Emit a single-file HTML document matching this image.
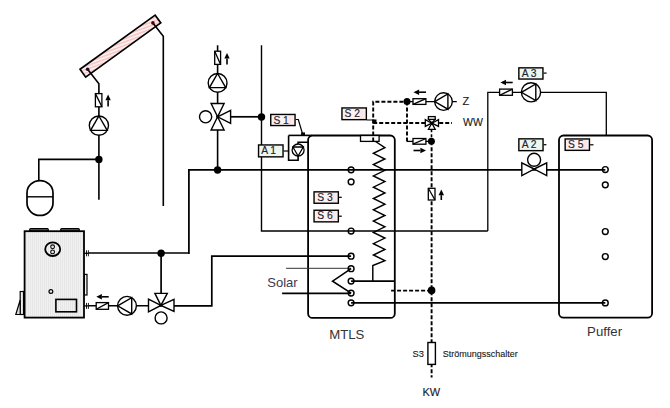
<!DOCTYPE html><html><head><meta charset="utf-8"><style>html,body{margin:0;padding:0;background:#fff;width:670px;height:408px;overflow:hidden}svg{display:block;font-family:"Liberation Sans",sans-serif}</style></head><body>
<svg width="670" height="408" viewBox="0 0 670 408">
<defs>
<linearGradient id="gS" x1="0" x2="1"><stop offset="0" stop-color="#f9eded"/><stop offset="0.6" stop-color="#fdf5f5"/><stop offset="0.8" stop-color="#fae3e3"/><stop offset="1" stop-color="#fdf3f3"/></linearGradient>
<linearGradient id="gA" x1="0" x2="1"><stop offset="0" stop-color="#f3f7ee"/><stop offset="0.5" stop-color="#eaf6f0"/><stop offset="1" stop-color="#eef8ee"/></linearGradient>
<pattern id="hatch" patternUnits="userSpaceOnUse" width="3.2" height="3.2" patternTransform="rotate(16)"><rect width="3.2" height="3.2" fill="#fdeeee"/><rect width="3.2" height="1.5" fill="#f6c6c6"/></pattern>
<pattern id="boil" patternUnits="userSpaceOnUse" width="2" height="3"><rect width="2" height="3" fill="#f1f1f1"/><rect width="1" height="3" fill="#e6e6e6"/></pattern>
</defs>
<g transform="translate(120.4,46.1) rotate(-35.8)"><rect x="-46.3" y="-4.8" width="92.6" height="9.6" fill="url(#hatch)" stroke="#000" stroke-width="1.7"/></g>
<path d="M87.60,69.30 L98.90,83.70 L98.90,199.70" fill="none" stroke="#000" stroke-width="1.6" stroke-linecap="butt"/>
<path d="M152.90,22.90 L163.30,36.30 L163.30,205.90" fill="none" stroke="#000" stroke-width="1.6" stroke-linecap="butt"/>
<circle cx="152.9" cy="22.9" r="1.8" fill="#500"/>
<circle cx="87.6" cy="69.3" r="1.8" fill="#113"/>
<rect x="95.4" y="93.6" width="6.50" height="13.20" fill="#fff" stroke="#000" stroke-width="1.3"/>
<path d="M95.4,93.6 L101.9,106.8" stroke="#000" stroke-width="1.3"/>
<path d="M108.1,106.6 L108.10,100.20" stroke="#000" stroke-width="1.6"/>
<path d="M108.1,94.6 L110.80,100.20 L105.40,100.20Z" fill="#000"/>
<circle cx="98.9" cy="125.6" r="9.6" fill="#fff" stroke="#000" stroke-width="1.4"/>
<path d="M98.90,116.00 L107.21,130.40 L90.59,130.40Z" fill="none" stroke="#000" stroke-width="1.4"/>
<path d="M38.80,180.60 L38.80,159.40 L98.90,159.40" fill="none" stroke="#000" stroke-width="1.6" stroke-linecap="butt"/>
<circle cx="98.9" cy="159.4" r="3.7" fill="#000"/>
<path d="M27,193 A13,12.4 0 0 1 53,193 L53,203 A13,12.4 0 0 1 27,203 Z" fill="#fff" stroke="#000" stroke-width="1.7"/>
<path d="M27.00,196.80 L53.00,196.80" fill="none" stroke="#000" stroke-width="1.4" stroke-linecap="butt"/>
<rect x="29.6" y="228.6" width="18.8" height="2.6" rx="1.3" fill="#666" stroke="#000" stroke-width="1.2"/>
<rect x="60.6" y="228.6" width="18.8" height="2.6" rx="1.3" fill="#666" stroke="#000" stroke-width="1.2"/>
<rect x="24.6" y="231.2" width="59.4" height="86.4" fill="url(#boil)" stroke="#000" stroke-width="1.8"/>
<ellipse cx="52.7" cy="249.2" rx="7.5" ry="6.8" fill="none" stroke="#000" stroke-width="1.8"/>
<circle cx="52.6" cy="246.8" r="1.9" fill="none" stroke="#000" stroke-width="1.1"/>
<circle cx="52.6" cy="251.9" r="1.9" fill="none" stroke="#000" stroke-width="1.1"/>
<circle cx="50.9" cy="291.5" r="1.9" fill="none" stroke="#000" stroke-width="1.2"/>
<rect x="55.9" y="299.4" width="20.6" height="12.4" fill="none" stroke="#000" stroke-width="1.6"/>
<rect x="84.4" y="274.4" width="2.6" height="20.6" fill="#eee" stroke="#000" stroke-width="1.2"/>
<rect x="20.2" y="291.5" width="3.3" height="23" fill="#eee" stroke="#000" stroke-width="1.2"/>
<path d="M20.2,300 L15.8,314.5 L20.2,314.5 Z" fill="#ddd" stroke="#000" stroke-width="1.2"/>
<path d="M84.00,253.30 L88.40,253.30" fill="none" stroke="#000" stroke-width="1.3" stroke-linecap="butt"/>
<path d="M86.50,250.30 L86.50,256.30" fill="none" stroke="#000" stroke-width="0.9" stroke-linecap="butt"/>
<path d="M88.40,250.30 L88.40,256.30" fill="none" stroke="#000" stroke-width="0.9" stroke-linecap="butt"/>
<path d="M84.00,305.90 L88.40,305.90" fill="none" stroke="#000" stroke-width="1.3" stroke-linecap="butt"/>
<path d="M86.50,302.90 L86.50,308.90" fill="none" stroke="#000" stroke-width="0.9" stroke-linecap="butt"/>
<path d="M88.40,302.90 L88.40,308.90" fill="none" stroke="#000" stroke-width="0.9" stroke-linecap="butt"/>
<path d="M88.40,253.10 L188.90,253.10" fill="none" stroke="#000" stroke-width="1.5" stroke-linecap="butt"/>
<path d="M188.90,253.90 L188.90,169.80 L605.30,169.80" fill="none" stroke="#000" stroke-width="1.75" stroke-linecap="butt"/>
<circle cx="161.1" cy="253.2" r="3.7" fill="#000"/>
<path d="M161.10,253.30 L161.10,300.00" fill="none" stroke="#000" stroke-width="1.7" stroke-linecap="butt"/>
<path d="M88.40,305.80 L148.50,305.80" fill="none" stroke="#000" stroke-width="1.6" stroke-linecap="butt"/>
<rect x="96.2" y="302.6" width="12.30" height="6.70" fill="#fff" stroke="#000" stroke-width="1.3"/>
<path d="M96.2,309.3 L108.5,302.6" stroke="#000" stroke-width="1.3"/>
<path d="M108.7,296.8 L101.90,296.80" stroke="#000" stroke-width="1.6"/>
<path d="M96.3,296.8 L101.90,294.10 L101.90,299.50Z" fill="#000"/>
<circle cx="127" cy="305.8" r="9.4" fill="#fff" stroke="#000" stroke-width="1.4"/>
<path d="M117.60,305.80 L131.70,297.66 L131.70,313.94Z" fill="none" stroke="#000" stroke-width="1.4"/>
<path d="M160.90,305.40 L154.90,293.40 L167.30,293.40Z" fill="#fff" stroke="#000" stroke-width="1.4"/>
<path d="M160.90,305.40 L148.50,299.10 L148.50,311.80Z" fill="#fff" stroke="#000" stroke-width="1.4"/>
<path d="M160.90,305.40 L174.00,299.40 L174.00,311.40Z" fill="#fff" stroke="#000" stroke-width="1.4"/>
<circle cx="160.9" cy="305.4" r="1.4" fill="#000"/>
<circle cx="161.1" cy="317.9" r="6" fill="#fff" stroke="#000" stroke-width="1.4"/>
<path d="M174.00,305.80 L211.80,305.80 L211.80,256.20 L351.10,256.20" fill="none" stroke="#000" stroke-width="1.7" stroke-linecap="butt"/>
<path d="M217.60,45.30 L217.60,170.00" fill="none" stroke="#000" stroke-width="1.6" stroke-linecap="butt"/>
<rect x="214.7" y="51.2" width="5.90" height="13.20" fill="#fff" stroke="#000" stroke-width="1.3"/>
<path d="M214.7,51.2 L220.6,64.4" stroke="#000" stroke-width="1.3"/>
<path d="M227,64.4 L227.00,58.60" stroke="#000" stroke-width="1.6"/>
<path d="M227,53 L229.70,58.60 L224.30,58.60Z" fill="#000"/>
<circle cx="217.6" cy="82.9" r="9.4" fill="#fff" stroke="#000" stroke-width="1.4"/>
<path d="M217.60,73.50 L225.74,87.60 L209.46,87.60Z" fill="none" stroke="#000" stroke-width="1.4"/>
<path d="M217.60,116.80 L211.10,103.50 L224.10,103.50Z" fill="#fff" stroke="#000" stroke-width="1.4"/>
<path d="M217.60,116.80 L211.10,130.00 L224.10,130.00Z" fill="#fff" stroke="#000" stroke-width="1.4"/>
<path d="M217.60,116.80 L230.60,110.30 L230.60,123.30Z" fill="#fff" stroke="#000" stroke-width="1.4"/>
<circle cx="217.6" cy="116.8" r="1.3" fill="#000"/>
<circle cx="205.6" cy="116.8" r="6.1" fill="#fff" stroke="#000" stroke-width="1.4"/>
<circle cx="217.6" cy="170" r="3.7" fill="#000"/>
<path d="M230.60,116.80 L261.50,116.80" fill="none" stroke="#000" stroke-width="1.7" stroke-linecap="butt"/>
<path d="M261.50,45.30 L261.50,231.00 L487.80,231.00" fill="none" stroke="#000" stroke-width="1.4" stroke-linecap="butt"/>
<path d="M487.80,231.00 L487.80,92.30 L606.30,92.30 L606.30,135.80" fill="none" stroke="#000" stroke-width="1.3" stroke-linecap="butt"/>
<circle cx="261.5" cy="117" r="3.7" fill="#000"/>
<rect x="308.1" y="135.5" width="86.7" height="182.4" rx="4.5" fill="none" stroke="#000" stroke-width="1.8"/>
<path d="M288.60,135.40 L312.00,135.40" fill="none" stroke="#000" stroke-width="1.6" stroke-linecap="butt"/>
<path d="M288.60,135.40 L288.60,160.30 L298.10,160.30 L298.10,142.20 L307.90,142.20" fill="none" stroke="#000" stroke-width="1.6" stroke-linecap="butt"/>
<circle cx="298.1" cy="150" r="6" fill="#fff" stroke="#000" stroke-width="1.3"/>
<path d="M298.10,156.00 L292.90,147.00 L303.30,147.00Z" fill="none" stroke="#000" stroke-width="1.3"/>
<path d="M283.60,151.00 L288.60,151.00" fill="none" stroke="#000" stroke-width="1.2" stroke-linecap="butt"/>
<rect x="258.55" y="144.95" width="24.50" height="11.90" fill="url(#gA)" stroke="#000" stroke-width="1.4"/>
<text x="261.20" y="154.10" font-size="10.3" fill="#222230" stroke="#222230" stroke-width="0.15">A 1</text>
<rect x="270.75" y="114.45" width="24.30" height="11.10" fill="url(#gS)" stroke="#000" stroke-width="1.4"/>
<text x="273.40" y="123.50" font-size="10.3" fill="#222230" stroke="#222230" stroke-width="0.15">S 1</text>
<path d="M295.70,119.50 L298.30,119.50 L302.30,133.00" fill="none" stroke="#000" stroke-width="1.2" stroke-linecap="butt"/>
<rect x="301.1" y="132.4" width="3.9" height="3" fill="#000"/>
<rect x="360.5" y="135.5" width="18.6" height="5.9" fill="#fff" stroke="#000" stroke-width="1.3"/>
<path d="M375.50,141.50 L384.90,147.70 L373.40,153.30 L384.90,159.00 L373.40,164.60 L384.90,170.30 L373.40,175.90 L384.90,181.60 L373.40,187.20 L384.90,192.90 L373.40,198.50 L384.90,204.20 L373.40,209.80 L384.90,215.50 L373.40,221.10 L384.90,226.80 L373.40,232.40 L384.90,238.10 L373.40,243.70 L384.90,249.40 L373.40,255.00 L384.90,260.70 L372.80,265.60 L372.80,281.10" fill="none" stroke="#000" stroke-width="1.45" stroke-linecap="butt"/>
<path d="M351.10,281.10 L394.80,281.10" fill="none" stroke="#000" stroke-width="1.7" stroke-linecap="butt"/>
<path d="M351.10,293.40 L282.10,293.40" fill="none" stroke="#000" stroke-width="1.7" stroke-linecap="butt"/>
<path d="M286.10,268.30 L351.10,268.30" fill="none" stroke="#333" stroke-width="1.0" stroke-linecap="butt"/>
<path d="M351.10,268.70 L332.60,281.20 L351.10,293.10" fill="none" stroke="#000" stroke-width="1.6" stroke-linecap="butt"/>
<path d="M351.10,302.80 L605.30,302.80" fill="none" stroke="#000" stroke-width="1.7" stroke-linecap="butt"/>
<circle cx="351.1" cy="169.8" r="2.9" fill="none" stroke="#000" stroke-width="1.45"/>
<circle cx="351.1" cy="181.8" r="2.9" fill="none" stroke="#000" stroke-width="1.45"/>
<circle cx="351.1" cy="231" r="2.9" fill="none" stroke="#000" stroke-width="1.45"/>
<circle cx="351.1" cy="256.2" r="2.9" fill="none" stroke="#000" stroke-width="1.45"/>
<circle cx="351.1" cy="268.7" r="2.9" fill="none" stroke="#000" stroke-width="1.45"/>
<circle cx="351.1" cy="281.1" r="2.9" fill="none" stroke="#000" stroke-width="1.45"/>
<circle cx="351.1" cy="293.1" r="2.9" fill="none" stroke="#000" stroke-width="1.45"/>
<circle cx="351.1" cy="302.8" r="2.9" fill="none" stroke="#000" stroke-width="1.45"/>
<rect x="314.05" y="191.85" width="24.30" height="11.40" fill="url(#gS)" stroke="#000" stroke-width="1.4"/>
<text x="317.20" y="200.70" font-size="10.3" fill="#222230" stroke="#222230" stroke-width="0.15">S 3</text>
<rect x="314.05" y="210.25" width="24.30" height="11.60" fill="url(#gS)" stroke="#000" stroke-width="1.4"/>
<text x="317.20" y="218.90" font-size="10.3" fill="#222230" stroke="#222230" stroke-width="0.15">S 6</text>
<path d="M339.00,197.30 L341.80,197.30" fill="none" stroke="#000" stroke-width="1.2" stroke-linecap="butt"/>
<path d="M339.00,216.20 L341.80,216.20" fill="none" stroke="#000" stroke-width="1.2" stroke-linecap="butt"/>
<rect x="341.95" y="107.95" width="24.40" height="11.70" fill="url(#gS)" stroke="#000" stroke-width="1.4"/>
<text x="344.60" y="116.70" font-size="10.3" fill="#222230" stroke="#222230" stroke-width="0.15">S 2</text>
<path d="M367.00,120.00 L372.50,120.00" fill="none" stroke="#000" stroke-width="1.0" stroke-linecap="butt"/>
<rect x="372.3" y="119.5" width="4.2" height="3.7" fill="#000"/>
<path d="M373.20,141.50 L373.20,101.70 L407.00,101.70" fill="none" stroke="#000" stroke-width="1.9" stroke-linecap="butt" stroke-dasharray="4,2"/>
<path d="M373.20,123.00 L452.00,123.00" fill="none" stroke="#000" stroke-width="1.9" stroke-linecap="butt" stroke-dasharray="4,2"/>
<circle cx="407" cy="101.6" r="3.5" fill="#000"/>
<path d="M407.00,101.60 L456.80,101.60" fill="none" stroke="#000" stroke-width="1.3" stroke-linecap="butt"/>
<rect x="413" y="98.7" width="12.90" height="5.70" fill="#fff" stroke="#000" stroke-width="1.3"/>
<path d="M413,104.4 L425.9,98.7" stroke="#000" stroke-width="1.3"/>
<path d="M426,92.2 L419.10,92.20" stroke="#000" stroke-width="1.6"/>
<path d="M413.5,92.2 L419.10,89.50 L419.10,94.90Z" fill="#000"/>
<circle cx="443.5" cy="101.6" r="8.8" fill="#fff" stroke="#000" stroke-width="1.4"/>
<path d="M434.70,101.60 L447.90,93.98 L447.90,109.22Z" fill="none" stroke="#000" stroke-width="1.4"/>
<path d="M407.00,101.60 L407.00,141.40" fill="none" stroke="#000" stroke-width="1.9" stroke-linecap="butt" stroke-dasharray="4,2"/>
<path d="M407.00,141.40 L431.40,141.40" fill="none" stroke="#000" stroke-width="1.3" stroke-linecap="butt"/>
<rect x="413" y="138.5" width="12.90" height="5.70" fill="#fff" stroke="#000" stroke-width="1.3"/>
<path d="M413,144.2 L425.9,138.5" stroke="#000" stroke-width="1.3"/>
<path d="M413.5,150.5 L420.40,150.50" stroke="#000" stroke-width="1.6"/>
<path d="M426,150.5 L420.40,153.20 L420.40,147.80Z" fill="#000"/>
<circle cx="431.4" cy="141.2" r="3.5" fill="#000"/>
<path d="M431.80,123.20 L425.30,119.60 L425.30,126.40Z" fill="#fff" stroke="#000" stroke-width="1.3"/>
<path d="M431.80,123.20 L438.50,119.60 L438.50,126.40Z" fill="#fff" stroke="#000" stroke-width="1.3"/>
<path d="M431.80,123.20 L428.40,129.30 L435.20,129.30Z" fill="#fff" stroke="#000" stroke-width="1.3"/>
<path d="M431.80,123.20 L428.60,119.40 L435.00,119.40Z" fill="#fff" stroke="#000" stroke-width="1.2"/>
<rect x="428.4" y="116.6" width="6.8" height="2.8" fill="#fff" stroke="#000" stroke-width="1.3"/>
<circle cx="431.8" cy="123.2" r="1.6" fill="#000"/>
<path d="M431.50,129.30 L431.50,141.00" fill="none" stroke="#000" stroke-width="1.6" stroke-linecap="butt" stroke-dasharray="3,2"/>
<path d="M431.60,141.20 L431.60,377.50" fill="none" stroke="#000" stroke-width="1.9" stroke-linecap="butt" stroke-dasharray="4,2"/>
<rect x="428.3" y="188.3" width="6.70" height="11.70" fill="#fff" stroke="#000" stroke-width="1.3"/>
<path d="M428.3,188.3 L435,200" stroke="#000" stroke-width="1.3"/>
<path d="M441.3,200 L441.30,195.20" stroke="#000" stroke-width="1.6"/>
<path d="M441.3,189.6 L444.00,195.20 L438.60,195.20Z" fill="#000"/>
<circle cx="431.6" cy="290.4" r="3.8" fill="#000"/>
<path d="M391.10,290.60 L431.60,290.60" fill="none" stroke="#000" stroke-width="1.9" stroke-linecap="butt" stroke-dasharray="4,2"/>
<rect x="427.9" y="342.5" width="7.5" height="21.9" fill="#fff" stroke="#000" stroke-width="1.4"/>
<text x="462.6" y="104.9" font-size="11" fill="#1a1a1a" stroke="#1a1a1a" stroke-width="0.12">Z</text>
<text x="463.1" y="126.3" font-size="10.5" fill="#1a1a1a" stroke="#1a1a1a" stroke-width="0.12">WW</text>
<text x="412.6" y="357.2" font-size="9.3" fill="#1a1a1a" stroke="#1a1a1a" stroke-width="0.12">S3</text>
<text x="442.8" y="357.2" font-size="9" fill="#1a1a1a" stroke="#1a1a1a" stroke-width="0.12">Strömungsschalter</text>
<text x="422.4" y="396.3" font-size="11" fill="#1a1a1a" stroke="#1a1a1a" stroke-width="0.12">KW</text>
<text x="267.3" y="287" font-size="13" fill="#3a3a4e">Solar</text>
<text x="329.2" y="339.1" font-size="13.2" fill="#333">MTLS</text>
<text x="587.1" y="336.2" font-size="13.2" fill="#333">Puffer</text>
<rect x="499.6" y="89.1" width="12.80" height="6.20" fill="#fff" stroke="#000" stroke-width="1.3"/>
<path d="M499.6,95.3 L512.4,89.1" stroke="#000" stroke-width="1.3"/>
<path d="M512.7,82.5 L506.00,82.50" stroke="#000" stroke-width="1.6"/>
<path d="M500.4,82.5 L506.00,79.80 L506.00,85.20Z" fill="#000"/>
<circle cx="531" cy="92.3" r="9.6" fill="#fff" stroke="#000" stroke-width="1.4"/>
<path d="M521.40,92.30 L535.80,83.99 L535.80,100.61Z" fill="none" stroke="#000" stroke-width="1.4"/>
<rect x="518.85" y="67.85" width="24.10" height="11.20" fill="url(#gA)" stroke="#000" stroke-width="1.4"/>
<text x="521.70" y="76.80" font-size="10.3" fill="#222230" stroke="#222230" stroke-width="0.15">A 3</text>
<path d="M543.60,73.10 L546.60,73.10" fill="none" stroke="#000" stroke-width="1.2" stroke-linecap="butt"/>
<rect x="518.85" y="138.85" width="24.20" height="11.80" fill="url(#gA)" stroke="#000" stroke-width="1.4"/>
<text x="521.70" y="147.80" font-size="10.3" fill="#222230" stroke="#222230" stroke-width="0.15">A 2</text>
<path d="M543.70,144.70 L546.40,144.70" fill="none" stroke="#000" stroke-width="1.2" stroke-linecap="butt"/>
<path d="M534.20,169.00 L521.80,162.80 L521.80,175.60Z" fill="#fff" stroke="#000" stroke-width="1.4"/>
<path d="M534.20,169.00 L546.70,162.80 L546.70,175.60Z" fill="#fff" stroke="#000" stroke-width="1.4"/>
<circle cx="534.1" cy="159.8" r="6.5" fill="#fff" stroke="#000" stroke-width="1.4"/>
<rect x="559" y="135.5" width="93.1" height="182.2" rx="4.5" fill="none" stroke="#000" stroke-width="1.8"/>
<rect x="565.15" y="138.95" width="24.30" height="11.40" fill="url(#gS)" stroke="#000" stroke-width="1.4"/>
<text x="568.00" y="148.20" font-size="10.3" fill="#222230" stroke="#222230" stroke-width="0.15">S 5</text>
<path d="M590.10,144.80 L593.50,144.80" fill="none" stroke="#000" stroke-width="1.2" stroke-linecap="butt"/>
<circle cx="605.3" cy="169.5" r="2.9" fill="none" stroke="#000" stroke-width="1.45"/>
<circle cx="605.3" cy="184.8" r="2.9" fill="none" stroke="#000" stroke-width="1.45"/>
<circle cx="605.3" cy="231.5" r="2.9" fill="none" stroke="#000" stroke-width="1.45"/>
<circle cx="605.3" cy="256.5" r="2.9" fill="none" stroke="#000" stroke-width="1.45"/>
<circle cx="605.3" cy="302.9" r="2.9" fill="none" stroke="#000" stroke-width="1.45"/>
</svg></body></html>
